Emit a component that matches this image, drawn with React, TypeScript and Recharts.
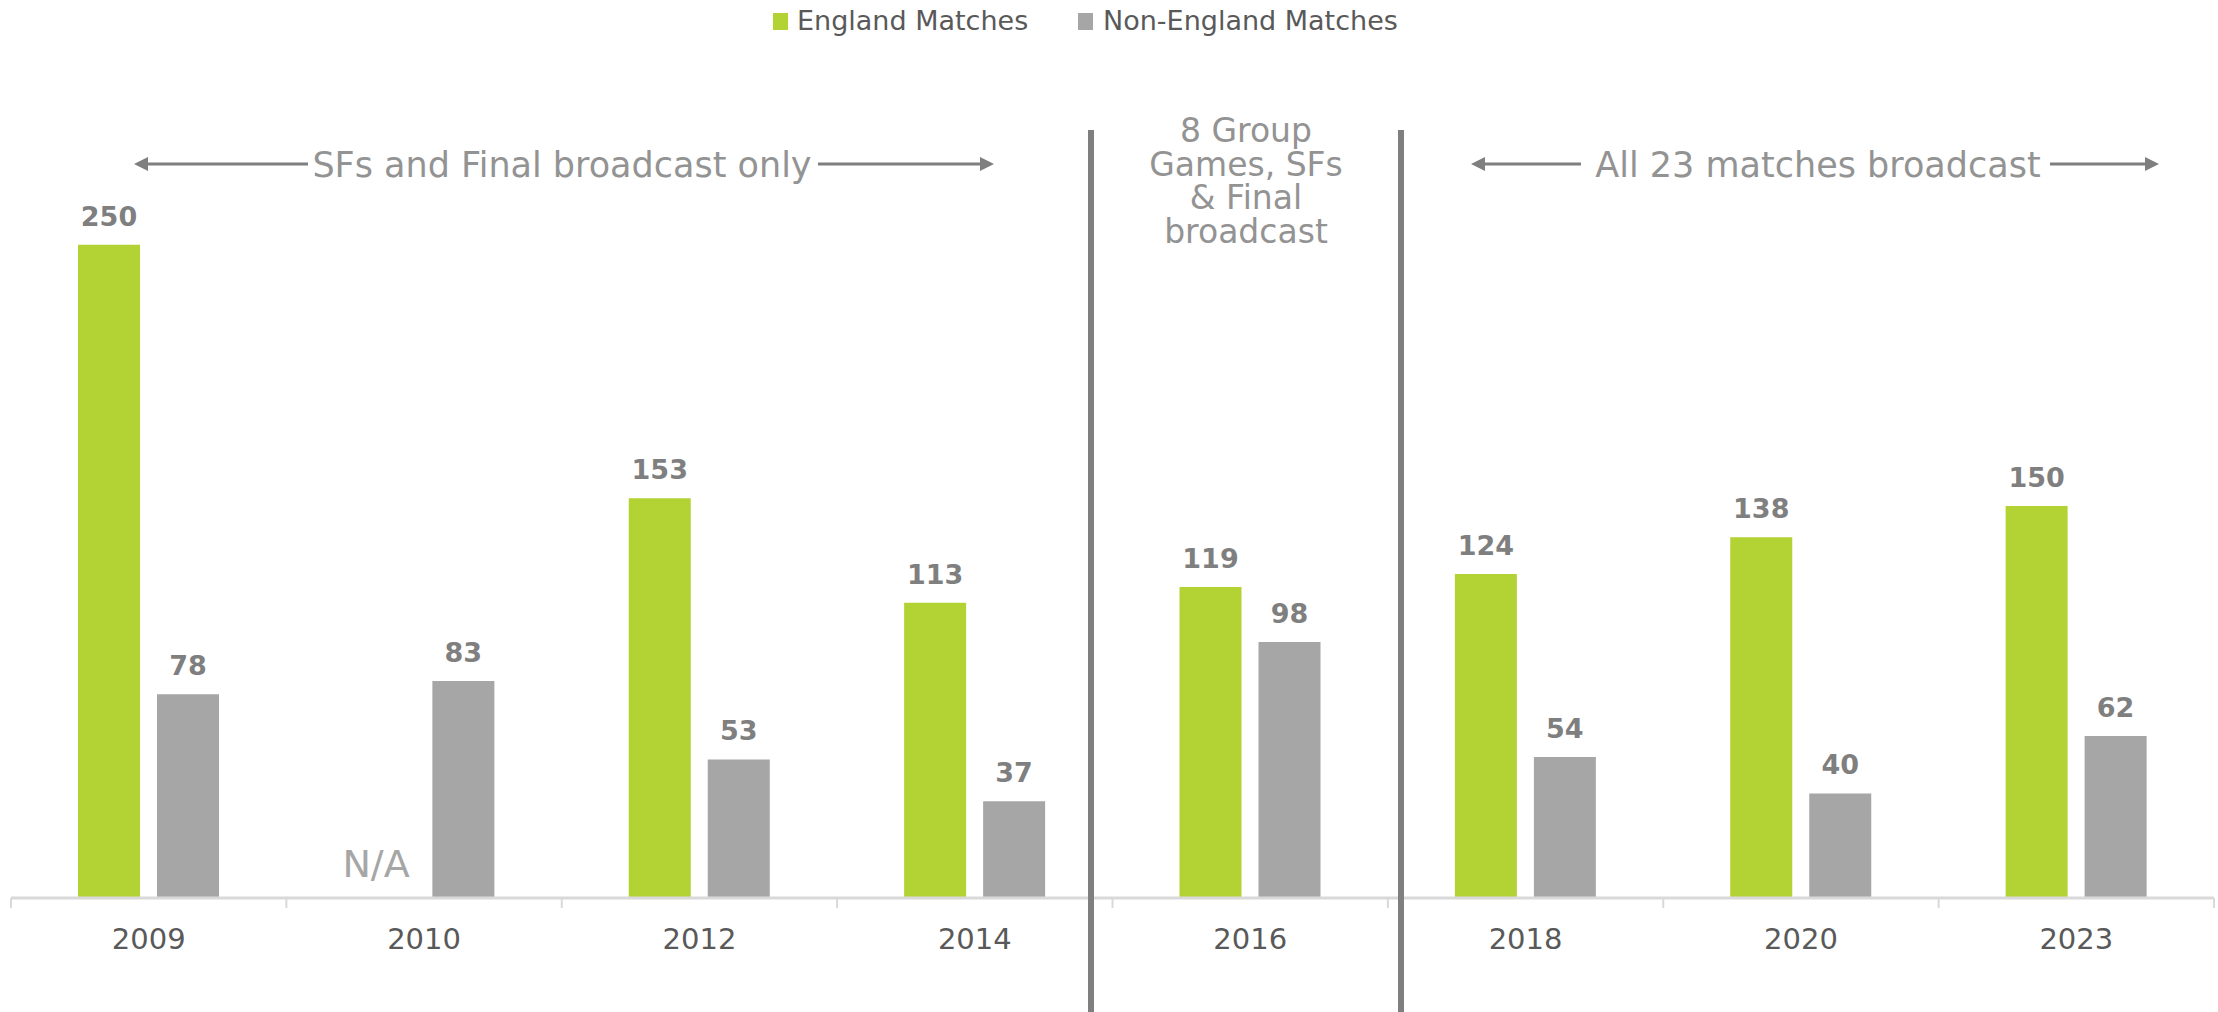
import React from 'react';
import { BarChart, Bar, XAxis, YAxis, LabelList } from 'recharts';

const categories = ['2009', '2010', '2012', '2014', '2016', '2018', '2020', '2023'];
const englandMatches = [250, null, 153, 113, 119, 124, 138, 150];
const nonEnglandMatches = [78, 83, 53, 37, 98, 54, 40, 62];
const seriesNames = ['England Matches', 'Non-England Matches'];
const seriesColors = ['#b3d335', '#a6a6a6'];
const missingLabel = 'N/A';
const noteEarly = 'SFs and Final broadcast only';
const noteMiddle = ['8 Group', 'Games, SFs', '& Final', 'broadcast'];
const noteLate = 'All 23 matches broadcast';

const data = categories.map((year, i) => ({
  year,
  england: englandMatches[i],
  nonEngland: nonEnglandMatches[i],
}));

const W = 2218;
const H = 1012;
const PLOT_LEFT = 11;
const PLOT_RIGHT = 2214;
const AXIS_Y = 898;
const BAND = (PLOT_RIGHT - PLOT_LEFT) / categories.length;
const FONT = '"DejaVu Sans", sans-serif';

// slots with no England figure get an "N/A" where the green bar would be
const missingSlots = englandMatches
  .map((v, i) => (v == null ? i : -1))
  .filter((i) => i >= 0);

function YearTick(props: any) {
  const { x, y, payload, index } = props;
  const left = x - BAND / 2;
  return (
    <g>
      <line x1={left} y1={y} x2={left} y2={y + 10} stroke="#d9d9d9" strokeWidth={2} />
      {index === categories.length - 1 && (
        <line x1={x + BAND / 2} y1={y} x2={x + BAND / 2} y2={y + 10} stroke="#d9d9d9" strokeWidth={2} />
      )}
      <text x={x} y={y + 51} textAnchor="middle" fill="#595959" fontSize={29} fontFamily={FONT}>
        {payload.value}
      </text>
    </g>
  );
}

function valueLabel(props: any) {
  const { x, y, width, value } = props;
  if (value == null || x == null) return null;
  return (
    <text
      x={x + width / 2}
      y={y - 19}
      textAnchor="middle"
      fill="#7f7f7f"
      fontSize={27}
      fontWeight="bold"
      fontFamily={FONT}
    >
      {value}
    </text>
  );
}

function Arrow({ x1, x2, y }: { x1: number; x2: number; y: number }) {
  // arrow pointing from x1 toward x2
  const dir = x2 > x1 ? 1 : -1;
  const head = 14;
  return (
    <g>
      <line x1={x1} y1={y} x2={x2 - dir * head} y2={y} stroke="#7f7f7f" strokeWidth={3} />
      <polygon
        points={`${x2},${y} ${x2 - dir * head},${y - 7} ${x2 - dir * head},${y + 7}`}
        fill="#7f7f7f"
      />
    </g>
  );
}

export default function App() {
  return (
    <div style={{ position: 'absolute', left: 0, top: 0, width: W, height: H, background: '#fff', overflow: 'hidden' }}>
      <BarChart
        width={W}
        height={H}
        data={data}
        margin={{ top: 114, right: W - PLOT_RIGHT, left: PLOT_LEFT, bottom: 0 }}
        barSize={62}
        barGap={17}
      >
        <XAxis
          dataKey="year"
          height={H - AXIS_Y}
          interval={0}
          tickLine={false}
          tickSize={0}
          tickMargin={0}
          axisLine={{ stroke: '#d9d9d9', strokeWidth: 3 }}
          tick={<YearTick />}
        />
        <YAxis hide domain={[0, 300]} />
        <Bar dataKey="england" name={seriesNames[0]} fill={seriesColors[0]} isAnimationActive={false}>
          <LabelList dataKey="england" content={valueLabel} />
        </Bar>
        <Bar dataKey="nonEngland" name={seriesNames[1]} fill={seriesColors[1]} isAnimationActive={false}>
          <LabelList dataKey="nonEngland" content={valueLabel} />
        </Bar>
      </BarChart>

      <svg width={W} height={H} style={{ position: 'absolute', left: 0, top: 0, pointerEvents: 'none' }}>
        {/* legend */}
        <rect x={773} y={13} width={15} height={17} fill={seriesColors[0]} />
        <text x={797} y={30} fontSize={27} fill="#595959" fontFamily={FONT}>{seriesNames[0]}</text>
        <rect x={1078} y={13} width={15} height={17} fill={seriesColors[1]} />
        <text x={1103} y={30} fontSize={27} fill="#595959" fontFamily={FONT}>{seriesNames[1]}</text>

        {missingSlots.map((i) => (
          <text
            key={i}
            x={PLOT_LEFT + BAND * (i + 0.5) - 48}
            y={AXIS_Y - 21}
            textAnchor="middle"
            fill="#a6a6a6"
            fontSize={38}
            fontFamily={FONT}
          >
            {missingLabel}
          </text>
        ))}

        {/* period separators */}
        <rect x={1088} y={130} width={6} height={H} fill="#7f7f7f" />
        <rect x={1398} y={130} width={6} height={H} fill="#7f7f7f" />

        {/* period notes */}
        <Arrow x1={308} x2={134} y={164} />
        <Arrow x1={818} x2={994} y={164} />
        <text x={562} y={177} textAnchor="middle" fontSize={35} fill="#939393" fontFamily={FONT}>{noteEarly}</text>

        {noteMiddle.map((line, i) => (
          <text key={line} x={1246} y={142 + i * 33.5} textAnchor="middle" fontSize={33} fill="#939393" fontFamily={FONT}>
            {line}
          </text>
        ))}

        <Arrow x1={1581} x2={1471} y={164} />
        <Arrow x1={2050} x2={2159} y={164} />
        <text x={1818} y={177} textAnchor="middle" fontSize={35} fill="#939393" fontFamily={FONT}>{noteLate}</text>
      </svg>
    </div>
  );
}
